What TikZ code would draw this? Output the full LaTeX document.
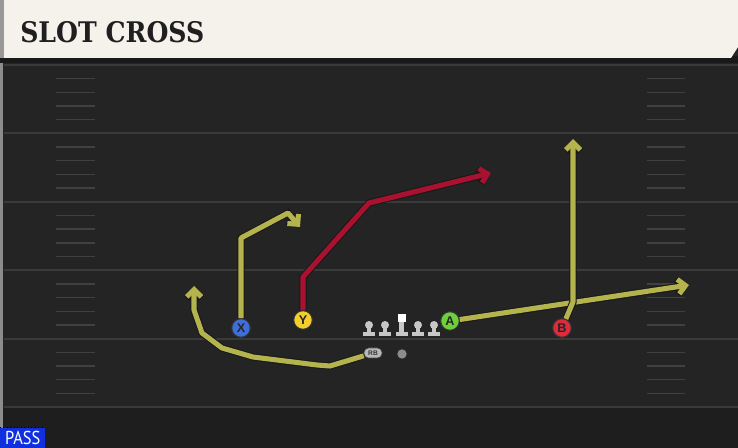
\documentclass[tikz,border=0pt]{standalone}
\usepackage{fontspec}
\setmainfont{Liberation Sans}
\newfontfamily\titlefont{DejaVu Serif}
\newfontfamily\passfont{PT Sans}
\usetikzlibrary{arrows.meta}
\definecolor{fieldbg}{HTML}{242424}
\definecolor{fieldlow}{HTML}{1E1E1E}
\definecolor{yardgray}{HTML}{3A3A3A}
\definecolor{hashgray}{HTML}{404040}
\definecolor{headbg}{HTML}{F4F2EB}
\definecolor{olive}{HTML}{B4B34E}
\definecolor{crimson}{HTML}{A8112F}
\definecolor{xblue}{HTML}{3F6ED8}
\definecolor{yyellow}{HTML}{F4CE2C}
\definecolor{agreen}{HTML}{6DD03A}
\definecolor{bred}{HTML}{E02A3C}
\definecolor{passblue}{HTML}{1030E0}
\tikzset{
  yardline/.style={draw=yardgray,line width=1.6pt},
  hashline/.style={draw=hashgray,line width=1.1pt},
  route/.style={line width=3.8pt,line join=round,
    -{Straight Barb[length=5.5pt,width=11pt]},
    preaction={draw=black!90,line width=5.4pt}},
  player/.style={circle,draw=black!80,line width=0.8pt,minimum size=14pt,
    inner sep=0pt,font=\bfseries\fontsize{9.5}{9.5}\selectfont,text=black!85},
  lineman/.style={fill=black!22}
}
\begin{document}
\begin{tikzpicture}[x=0.75pt,y=-0.75pt]
  \useasboundingbox (0,0) rectangle (738,448);
  % Field
  \fill[fieldbg] (0,0) rectangle (738,448);
  \fill[fieldlow] (0,407) rectangle (738,448);
  \fill[black!45] (0,60) rectangle (3,448);
  % Yard lines and hash marks
  \foreach \y in {65,133.4,201.8,270.2,338.6,407} \draw[yardline] (4,\y) -- (738,\y);
  \foreach \k in {1,...,24} {
    \pgfmathtruncatemacro\r{mod(\k,5)}
    \ifnum\r>0
      \draw[hashline] (56,65+13.68*\k) -- (95,65+13.68*\k);
      \draw[hashline] (647,65+13.68*\k) -- (685,65+13.68*\k);
    \fi
  }
  % Header
  \fill[black!90] (0,56) rectangle (738,63);
  \fill[black!40] (0,0) rectangle (4,58);
  \fill[headbg] (4,0) -- (738,0) -- (738,47) -- (731,58) -- (4,58) -- cycle;
  \node[anchor=base west,inner sep=0pt,text=black!88,
    font=\titlefont\bfseries\fontsize{21}{21}\selectfont] (title) at (20,43)
    {\resizebox{138pt}{15.8pt}{SLOT CROSS}};
  % Formation
  \node[player,fill=xblue] (X) at (241,328) {X};
  \node[player,fill=yyellow] (Y) at (303,320) {Y};
  \node[player,fill=agreen] (A) at (450,321) {A};
  \node[player,fill=bred] (B) at (562,328) {B};
  \foreach \x in {369,385,418,434} {
    \fill[lineman] (\x,325) circle (4);
    \fill[lineman] (\x-2.2,325) rectangle (\x+2.2,333);
    \fill[lineman] (\x-6,332) rectangle (\x+6,336.5);
  }
  \fill[white] (397.5,314) rectangle (405.5,322.5);
  \fill[lineman] (399.3,322) rectangle (403.7,333);
  \fill[lineman] (395.5,332) rectangle (407.5,336.5);
  \node[draw=black!70,fill=black!28,rounded corners=3.5pt,minimum width=13.5pt,
    minimum height=7.5pt,inner sep=0pt,font=\bfseries\fontsize{5}{5}\selectfont,
    text=black!80] (RB) at (373,353) {RB};
  \node[circle,fill=black!45,minimum size=7pt,inner sep=0pt] (QB) at (402,354) {};
  % Route points
  \coordinate (x1) at (241,238);
  \coordinate (x2) at (288,213);
  \coordinate (xend) at (300,227);
  \coordinate (y1) at (303,277);
  \coordinate (y2) at (369,203);
  \coordinate (yend) at (491,173);
  \coordinate (aend) at (689,285);
  \coordinate (b1) at (573,302);
  \coordinate (bend) at (573,139);
  \coordinate (r1) at (330,366);
  \coordinate (r2) at (317,365);
  \coordinate (r3) at (253,357);
  \coordinate (r4) at (222,348);
  \coordinate (r5) at (202,333);
  \coordinate (r6) at (194,310);
  \coordinate (rend) at (194,286);
  % Routes
  \draw[route,draw=olive] (X) -- (x1) -- (x2) -- (xend);
  \draw[route,draw=crimson] (Y) -- (y1) -- (y2) -- (yend);
  \draw[route,draw=olive] (A) -- (aend);
  \draw[route,draw=olive] (B) -- (b1) -- (bend);
  \draw[route,draw=olive] (RB) -- (r1) -- (r2) -- (r3) -- (r4) -- (r5) -- (r6) -- (rend);
  % Play type
  \draw[black,dotted,line width=0.6pt] (0,427) -- (45,427);
  \node[fill=passblue,anchor=south west,minimum width=33.75pt,minimum height=15pt,
    inner sep=0pt,text=white,font=\passfont\fontsize{14}{14}\selectfont] (pass) at (0,448)
    {\scalebox{0.88}[1]{PASS}};
\end{tikzpicture}
\end{document}
